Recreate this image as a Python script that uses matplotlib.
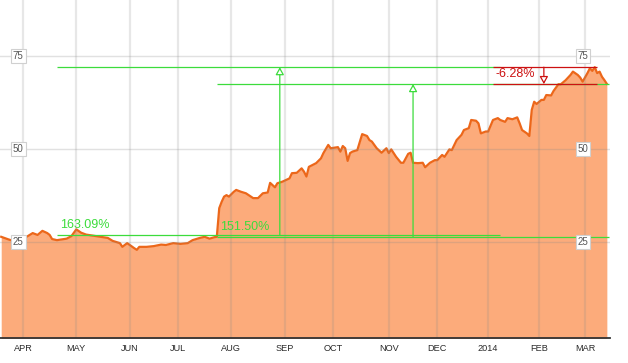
import numpy as np
import matplotlib
matplotlib.use('Agg')
import matplotlib.pyplot as plt
import matplotlib.transforms as mtransforms

plt.rcParams['font.family'] = ['Liberation Sans', 'DejaVu Sans']

# exchange holidays, so the x axis runs in trading sessions
holidays = ['2013-03-29', '2013-05-27', '2013-07-04', '2013-09-02', '2013-11-28',
            '2013-12-25', '2014-01-01', '2014-01-20', '2014-02-17']

dates = [
    '2013-03-18', '2013-03-21', '2013-03-22', '2013-03-28', '2013-04-03', '2013-04-05',
    '2013-04-09', '2013-04-11', '2013-04-15', '2013-04-16', '2013-04-17', '2013-04-19',
    '2013-04-25', '2013-04-29', '2013-05-01', '2013-05-03', '2013-05-07', '2013-05-13',
    '2013-05-20', '2013-05-22', '2013-05-28', '2013-05-29', '2013-05-31', '2013-06-05',
    '2013-06-06', '2013-06-07', '2013-06-12', '2013-06-17', '2013-06-20', '2013-06-24',
    '2013-06-27', '2013-07-02', '2013-07-08', '2013-07-10', '2013-07-15', '2013-07-17',
    '2013-07-19', '2013-07-23', '2013-07-24', '2013-07-25', '2013-07-26', '2013-07-29',
    '2013-07-30', '2013-07-31', '2013-08-02', '2013-08-05', '2013-08-07', '2013-08-09',
    '2013-08-14', '2013-08-16', '2013-08-20', '2013-08-22', '2013-08-23', '2013-08-27',
    '2013-08-28', '2013-08-30', '2013-09-05', '2013-09-06', '2013-09-10', '2013-09-12',
    '2013-09-13', '2013-09-16', '2013-09-17', '2013-09-20', '2013-09-24', '2013-09-25',
    '2013-09-27', '2013-09-30', '2013-10-03', '2013-10-04', '2013-10-07', '2013-10-08',
    '2013-10-09', '2013-10-10', '2013-10-11', '2013-10-15', '2013-10-17', '2013-10-21',
    '2013-10-22', '2013-10-23', '2013-10-25', '2013-10-29', '2013-10-31', '2013-11-01',
    '2013-11-04', '2013-11-06', '2013-11-08', '2013-11-11', '2013-11-13', '2013-11-14',
    '2013-11-15', '2013-11-19', '2013-11-21', '2013-11-22', '2013-11-26', '2013-11-29',
    '2013-12-02', '2013-12-04', '2013-12-05', '2013-12-09', '2013-12-10', '2013-12-12',
    '2013-12-16', '2013-12-17', '2013-12-19', '2013-12-20', '2013-12-24', '2013-12-26',
    '2013-12-27', '2013-12-31', '2014-01-02', '2014-01-06', '2014-01-08', '2014-01-09',
    '2014-01-13', '2014-01-14', '2014-01-16', '2014-01-21', '2014-01-22', '2014-01-23',
    '2014-01-27', '2014-01-28', '2014-01-29', '2014-01-30', '2014-01-31', '2014-02-04',
    '2014-02-05', '2014-02-06', '2014-02-10', '2014-02-11', '2014-02-13', '2014-02-14',
    '2014-02-19', '2014-02-21', '2014-02-24', '2014-02-26', '2014-02-27', '2014-02-28',
    '2014-03-04', '2014-03-05', '2014-03-06', '2014-03-07', '2014-03-10', '2014-03-11',
    '2014-03-12', '2014-03-13', '2014-03-14',
]
prices = [
    26.4, 25.7, 25.5, 25.5, 26.6, 27.4,
    26.9, 28.0, 27.4, 26.9, 25.8, 25.5,
    25.9, 26.6, 28.4, 27.5, 27.0, 26.6,
    26.1, 25.3, 24.7, 23.7, 24.7, 23.3,
    22.9, 23.7, 23.7, 23.9, 24.3, 24.2,
    24.7, 24.5, 24.7, 25.5, 26.1, 26.4,
    25.9, 26.3, 26.4, 34.1, 35.8, 37.2,
    37.6, 37.2, 38.5, 39.0, 38.5, 38.1,
    36.8, 36.8, 38.1, 38.3, 40.9, 39.7,
    40.8, 41.2, 42.1, 43.5, 43.6, 44.8,
    43.9, 42.6, 45.2, 46.2, 47.5, 48.9,
    51.1, 50.2, 50.5, 49.3, 50.8, 50.2,
    46.8, 48.9, 49.3, 49.7, 54.0, 53.5,
    52.4, 52.0, 50.2, 49.0, 50.2, 48.9,
    49.9, 47.9, 46.3, 46.3, 48.7, 49.0,
    46.3, 46.2, 46.3, 45.1, 46.3, 47.0,
    47.0, 48.4, 47.9, 49.9, 49.7, 52.4,
    53.8, 55.1, 55.6, 57.8, 57.6, 56.9,
    54.2, 54.7, 54.7, 57.8, 58.3, 57.8,
    57.3, 58.3, 58.0, 58.5, 56.9, 55.1,
    54.2, 53.5, 60.5, 62.7, 62.1, 63.2,
    63.2, 64.5, 64.4, 65.6, 67.4, 67.4,
    68.5, 69.9, 70.8, 69.9, 69.2, 68.1,
    70.4, 71.7, 71.0, 72.0, 70.4, 70.8,
    69.4, 68.5, 67.5,
]

month_starts = ['2013-04-01', '2013-05-01', '2013-06-01', '2013-07-01', '2013-08-01',
                '2013-09-01', '2013-10-01', '2013-11-01', '2013-12-01', '2014-01-01',
                '2014-02-01', '2014-03-01']
month_labels = ['APR', 'MAY', 'JUN', 'JUL', 'AUG', 'SEP', 'OCT', 'NOV', 'DEC', '2014',
                'FEB', 'MAR']
y_ticks = [25, 50, 75]

# measurement tools drawn on the chart
m1_start, m1_end, m1_arrow = '2013-04-19', '2014-01-09', '2013-08-29'
m1_low, m1_high, m1_text = 26.9, 72.0, '163.09%'
m2_start, m2_end, m2_arrow = '2013-07-24', '2014-03-17', '2013-11-15'
m2_low, m2_high, m2_text = 26.4, 67.45, '151.50%'
dd_start, dd_end, dd_arrow = '2014-01-06', '2014-03-10', '2014-02-05'
dd_text = '-6.28%'

GREEN = '#3cdc3c'
RED = '#cc1111'
ORANGE = '#ec671a'
FILL = '#fcab7b'


def sess(d):
    return np.busday_count(dates[0], np.asarray(d, dtype='datetime64[D]'), holidays=holidays)


x = sess(dates)

fig = plt.figure(figsize=(6.28, 3.63), dpi=100)
ax = fig.add_axes([0, 25 / 363, 610 / 628, 338 / 363])

ax.fill_between(x, prices, -5, color=FILL, lw=0, zorder=1)
ax.plot(x, prices, color=ORANGE, lw=1.6, zorder=2, solid_joinstyle='round')

ax.set_xlim(-0.5, x[-1] + 1.3)
ax.set_ylim(-0.8, 90.05)

ax.set_xticks(sess(month_starts))
ax.set_xticklabels(month_labels)
ax.set_yticks(y_ticks)
ax.set_yticklabels([])
ax.tick_params(axis='both', length=0)
ax.tick_params(axis='x', pad=4, labelsize=6.6, labelcolor='#2a2a2a')
ax.set_axisbelow(False)
ax.grid(axis='x', color='#888888', alpha=0.2, lw=1.6)
ax.grid(axis='y', color='#888888', alpha=0.25, lw=1.0)

for s in ['top', 'left', 'right']:
    ax.spines[s].set_visible(False)
ax.spines['bottom'].set_color('#333333')
ax.spines['bottom'].set_linewidth(1.3)
ax.spines['bottom'].set_zorder(6)

# y value boxes on both sides
trans = mtransforms.blended_transform_factory(ax.transAxes, ax.transData)
for v in y_ticks:
    for xa in (0.030, 0.956):
        ax.text(xa, v, str(v), transform=trans, ha='center', va='center', fontsize=7,
                color='#555555', zorder=7,
                bbox=dict(boxstyle='square,pad=0.2', fc='white', ec='#d0d0d0', lw=0.8))

# measurement lines
lw = 0.9
ax.hlines([m1_low, m1_high], sess(m1_start), sess(m1_end), color=GREEN, lw=lw, zorder=4)
ax.hlines([m2_low, m2_high], sess(m2_start), sess(m2_end), color=GREEN, lw=lw, zorder=4)
ax.hlines([m1_high, m2_high], sess(dd_start), sess(dd_end), color=RED, lw=lw, zorder=5)

head = '-|>,head_length=0.45,head_width=0.25'
for d, lo, hi, c in [(m1_arrow, m1_low, m1_high, GREEN), (m2_arrow, m2_low, m2_high, GREEN),
                     (dd_arrow, m1_high, m2_high, RED)]:
    ax.annotate('', xy=(sess(d), hi), xytext=(sess(d), lo),
                arrowprops=dict(arrowstyle=head, fc='white', ec=c, lw=lw,
                                shrinkA=0, shrinkB=0, mutation_scale=10), zorder=5)

for d, v, t, c in [(m1_start, m1_low, m1_text, GREEN), (m2_start, m2_low, m2_text, GREEN),
                   (dd_start, m2_high, dd_text, RED)]:
    ax.annotate(t, xy=(sess(d), v), xytext=(3, 10), textcoords='offset pixels',
                ha='left', va='center', fontsize=9, color=c, zorder=6)

fig.savefig('out.png', dpi=100)
